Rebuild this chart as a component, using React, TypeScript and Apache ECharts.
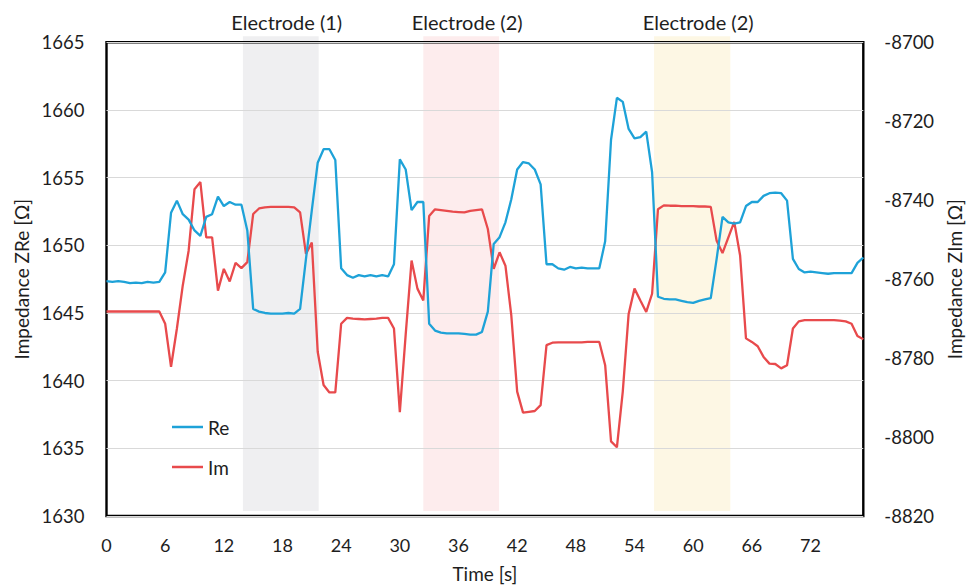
import React, { useEffect, useRef } from "react";
import * as echarts from "echarts";

// Sampling step of the recording [s]
const STEP = 0.6;

// Real part of the impedance [Ω] (left axis)
const RE = [
  1647.35, 1647.3, 1647.35, 1647.3, 1647.2, 1647.25, 1647.2, 1647.3, 1647.25, 1647.3,
  1648.0, 1652.4, 1653.3, 1652.3, 1651.9, 1651.1, 1650.7, 1652.1, 1652.3, 1653.6,
  1652.9, 1653.2, 1653.0, 1653.0, 1651.1, 1645.3, 1645.1, 1645.0, 1644.95, 1644.95,
  1644.95, 1645.0, 1644.95, 1645.3, 1649.0, 1652.6, 1656.1, 1657.1, 1657.1, 1656.3,
  1648.3, 1647.8, 1647.6, 1647.8, 1647.7, 1647.8, 1647.7, 1647.8, 1647.7, 1648.6,
  1656.35, 1655.6, 1652.6, 1653.2, 1653.2, 1644.2, 1643.7, 1643.55, 1643.5, 1643.5,
  1643.5, 1643.45, 1643.4, 1643.4, 1643.6, 1645.1, 1650.1, 1650.6, 1651.7, 1653.4,
  1655.6, 1656.15, 1656.05, 1655.6, 1654.5, 1648.6, 1648.6, 1648.3, 1648.2, 1648.4,
  1648.3, 1648.35, 1648.3, 1648.3, 1648.3, 1650.3, 1657.8, 1660.9, 1660.6, 1658.6,
  1657.9, 1658.0, 1658.4, 1655.4, 1646.2, 1646.05, 1646.0, 1646.0, 1645.9, 1645.8,
  1645.75, 1645.9, 1646.0, 1646.1, 1649.0, 1652.1, 1651.7, 1651.6, 1651.7, 1652.9,
  1653.2, 1653.2, 1653.65, 1653.85, 1653.9, 1653.85, 1653.3, 1649.0, 1648.25, 1648.0,
  1648.05, 1648.0, 1647.95, 1647.9, 1647.95, 1647.95, 1647.95, 1647.95, 1648.7, 1649.1,
];

// Imaginary part of the impedance [Ω] (right axis)
const IM = [
  -8768.2, -8768.2, -8768.2, -8768.2, -8768.2, -8768.2, -8768.2, -8768.2, -8768.2, -8768.2,
  -8771.3, -8782.2, -8772.5, -8761.6, -8752.8, -8737.2, -8735.4, -8749.4, -8749.4, -8762.9,
  -8757.4, -8760.6, -8755.9, -8757.2, -8755.7, -8743.5, -8742.1, -8741.8, -8741.7, -8741.7,
  -8741.7, -8741.7, -8741.8, -8743.1, -8753.6, -8750.7, -8778.4, -8786.8, -8788.7, -8788.7,
  -8771.3, -8769.8, -8770.0, -8770.1, -8770.2, -8770.1, -8770.0, -8769.8, -8769.8, -8772.5,
  -8793.7, -8774.0, -8755.3, -8762.4, -8765.4, -8744.0, -8742.3, -8742.5, -8742.7, -8742.9,
  -8743.0, -8743.1, -8742.7, -8742.5, -8742.3, -8747.3, -8757.4, -8753.2, -8756.6, -8769.2,
  -8788.5, -8793.8, -8793.6, -8793.4, -8791.9, -8776.7, -8776.1, -8776.0, -8776.0, -8776.0,
  -8776.0, -8776.0, -8775.9, -8775.9, -8775.9, -8781.8, -8801.1, -8802.6, -8788.5, -8768.8,
  -8762.4, -8765.4, -8768.3, -8763.7, -8742.3, -8741.3, -8741.4, -8741.4, -8741.5, -8741.5,
  -8741.5, -8741.6, -8741.6, -8741.7, -8750.3, -8753.4, -8749.4, -8745.5, -8754.0, -8775.0,
  -8775.9, -8777.0, -8779.7, -8781.4, -8781.5, -8782.6, -8781.8, -8772.5, -8770.7, -8770.4,
  -8770.4, -8770.4, -8770.4, -8770.4, -8770.4, -8770.5, -8770.7, -8771.3, -8774.4, -8775.2,
];

// Time grid [s]
const TIME = RE.map((_, i) => +(i * STEP).toFixed(1));

// Shaded electrode intervals [s]
const BAND_LABELS = ["Electrode (1)", "Electrode (2)", "Electrode (2)"];
const BAND_START = [13.95, 32.4, 56.0];
const BAND_END = [21.7, 40.15, 63.8];
const BAND_COLORS = ["#efeff1", "#fdeced", "#fdf7e4"];

const FONT = "Lato";
const TEXT = "#1e1e1e";

const plain = (v: number) => String(v);

export default function App() {
  const ref = useRef<HTMLDivElement>(null);

  useEffect(() => {
    const chart = echarts.init(ref.current!, null, { renderer: "svg" });
    const option: any = {
      animation: false,
      backgroundColor: "#ffffff",
      textStyle: { fontFamily: FONT },
      grid: {
        left: 106.5,
        top: 42.3,
        width: 760.5,
        height: 476,
        show: true,
        borderColor: "#000000",
        borderWidth: 2.4,
        backgroundColor: "transparent",
      },
      legend: {
        orient: "vertical",
        left: 167,
        top: 412,
        icon: "rect",
        itemWidth: 31,
        itemHeight: 2.5,
        itemGap: 20,
        textStyle: { fontFamily: FONT, fontSize: 19, color: TEXT, lineHeight: 20 },
        data: ["Re", "Im"],
      },
      xAxis: {
        type: "value",
        min: 0,
        max: TIME[TIME.length - 1],
        interval: 6,
        name: "Time [s]",
        nameLocation: "middle",
        nameGap: 48,
        nameTextStyle: { fontFamily: FONT, fontSize: 19, color: TEXT },
        axisLine: { show: false },
        axisTick: { show: false },
        splitLine: { show: false },
        axisLabel: {
          fontFamily: FONT,
          fontSize: 18,
          color: TEXT,
          margin: 20,
          showMaxLabel: false,
          formatter: plain,
        },
      },
      yAxis: [
        {
          type: "value",
          min: 1630,
          max: 1665,
          interval: 5,
          name: "Impedance ZRe [Ω]",
          nameLocation: "middle",
          nameGap: 64,
          nameTextStyle: { fontFamily: FONT, fontSize: 19, color: TEXT },
          axisLine: { show: false },
          axisTick: { show: false },
          splitLine: { show: true, lineStyle: { color: "#d9d9d9", width: 1 } },
          axisLabel: { fontFamily: FONT, fontSize: 18.5, color: TEXT, margin: 22, formatter: plain },
        },
        {
          type: "value",
          min: -8820,
          max: -8700,
          interval: 20,
          position: "right",
          name: "Impedance ZIm [Ω]",
          nameLocation: "middle",
          nameRotate: 90,
          nameGap: 76,
          nameTextStyle: { fontFamily: FONT, fontSize: 19, color: TEXT },
          axisLine: { show: false },
          axisTick: { show: false },
          splitLine: { show: false },
          axisLabel: { fontFamily: FONT, fontSize: 18.5, color: TEXT, margin: 21, formatter: plain },
        },
      ],
      series: [
        {
          name: "Re",
          type: "line",
          yAxisIndex: 0,
          color: "#1ea2d8",
          showSymbol: false,
          symbol: "none",
          lineStyle: { width: 2.3, color: "#1ea2d8" },
          data: RE.map((v, i) => [TIME[i], v]),
          z: 3,
        },
        {
          name: "Im",
          type: "line",
          yAxisIndex: 1,
          color: "#e84a4c",
          showSymbol: false,
          symbol: "none",
          lineStyle: { width: 2.3, color: "#e84a4c" },
          data: IM.map((v, i) => [TIME[i], v]),
          z: 2,
        },
      ],
    };
    chart.setOption(option);

    const yTop = chart.convertToPixel({ yAxisIndex: 0 }, 1665) as number;
    const yBottom = chart.convertToPixel({ yAxisIndex: 0 }, 1630) as number;
    const graphics: any[] = [];
    BAND_START.forEach((s, k) => {
      const x0 = chart.convertToPixel({ xAxisIndex: 0 }, s) as number;
      const x1 = chart.convertToPixel({ xAxisIndex: 0 }, BAND_END[k]) as number;
      graphics.push({
        type: "rect",
        silent: true,
        z: -1,
        shape: { x: x0, y: yTop - 6, width: x1 - x0, height: yBottom - 5 - (yTop - 6) },
        style: { fill: BAND_COLORS[k] },
      });
      graphics.push({
        type: "text",
        silent: true,
        x: (x0 + x1) / 2 + 6,
        y: 22,
        style: {
          text: BAND_LABELS[k],
          fontFamily: FONT,
          fontSize: 20,
          fill: TEXT,
          textAlign: "center",
          textVerticalAlign: "middle",
        },
      });
    });
    chart.setOption({ graphic: graphics });

    return () => chart.dispose();
  }, []);

  return (
    <div
      ref={ref}
      style={{ position: "fixed", left: 0, top: 0, width: 972, height: 588 }}
    />
  );
}
